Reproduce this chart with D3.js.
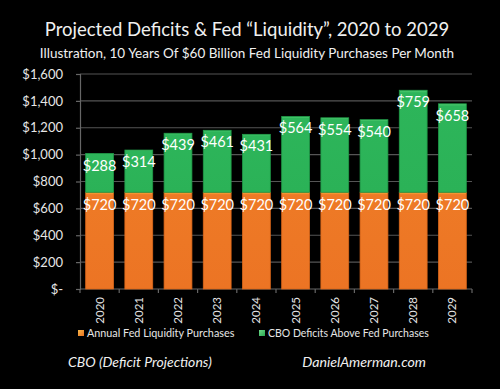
<!DOCTYPE html>
<html><head><meta charset="utf-8">
<script src="https://cdn.jsdelivr.net/npm/d3@7"></script>
<style>
html,body{margin:0;padding:0;background:#000;}
svg{display:block;}
text{font-family:Lato,"Open Sans",sans-serif;}
</style></head>
<body>
<svg id="chart" width="500" height="389"></svg>
<script>
const years = ["2020","2021","2022","2023","2024","2025","2026","2027","2028","2029"];
const fedPurchases = [720,720,720,720,720,720,720,720,720,720];
const cboAbove = [288,314,439,461,431,564,554,540,759,658];
const yTicks = [0,200,400,600,800,1000,1200,1400,1600];
const seriesNames = ["Annual Fed Liquidity Purchases","CBO Deficits Above Fed Purchases"];

const svg = d3.select("#chart");
svg.append("rect").attr("width",500).attr("height",389).attr("fill","#000");

const defs = svg.append("defs");
function grad(id, top, mid, bot){
  const g = defs.append("linearGradient").attr("id",id).attr("x1",0).attr("y1",0).attr("x2",0).attr("y2",1);
  g.append("stop").attr("offset","0%").attr("stop-color",top);
  g.append("stop").attr("offset","2.5%").attr("stop-color",mid);
  g.append("stop").attr("offset","100%").attr("stop-color",bot);
}
const lg1 = defs.append("linearGradient").attr("id","legO").attr("x1",0).attr("y1",0).attr("x2",1).attr("y2",1);
lg1.append("stop").attr("offset","0%").attr("stop-color","#f7b84a");
lg1.append("stop").attr("offset","100%").attr("stop-color","#e8701f");
const lg2 = defs.append("linearGradient").attr("id","legG").attr("x1",0).attr("y1",0).attr("x2",1).attr("y2",1);
lg2.append("stop").attr("offset","0%").attr("stop-color","#6fd88a");
lg2.append("stop").attr("offset","100%").attr("stop-color","#26a84f");

const x0 = 80, x1 = 472, yTop = 74, yBot = 289;
const x = d3.scaleBand().domain(years).range([x0,x1]).paddingInner(0.29).paddingOuter(0.145);
const y = d3.scaleLinear().domain([0,1600]).range([yBot,yTop]);

// gridlines
svg.append("g").selectAll("line").data(yTicks.filter(d=>d>0)).join("line")
  .attr("x1",x0).attr("x2",x1).attr("y1",d=>y(d)).attr("y2",d=>y(d))
  .attr("stroke","#555").attr("stroke-width",1.2);

// y axis
const yAxis = d3.axisLeft(y).tickValues(yTicks).tickSize(4).tickPadding(13)
  .tickFormat(d=> d===0 ? "$-" : "$" + d3.format(",")(d));
const ya = svg.append("g").attr("transform",`translate(${x0},0)`).call(yAxis);
ya.select(".domain").attr("stroke","#666").attr("stroke-width",1.2);
ya.selectAll(".tick line").attr("stroke","#666").attr("stroke-width",1.2);
ya.selectAll(".tick text").attr("fill","#e6e6e6").attr("font-size",13).attr("font-family","Lato,sans-serif");

// x axis
const xa = svg.append("g").attr("transform",`translate(0,${yBot})`);
xa.append("line").attr("x1",x0).attr("x2",x1).attr("stroke","#666").attr("stroke-width",1.2);
const step = x.step();
xa.selectAll("line.tk").data(d3.range(11)).join("line").attr("class","tk")
  .attr("x1",i=>x0+i*step).attr("x2",i=>x0+i*step).attr("y1",0).attr("y2",4)
  .attr("stroke","#666").attr("stroke-width",1.2);
xa.selectAll("text").data(years).join("text")
  .attr("transform",d=>`translate(${x(d)+x.bandwidth()/2+4},8) rotate(-90)`)
  .attr("text-anchor","end").attr("fill","#e6e6e6").attr("font-size",11.5).text(d=>d);

// bars
const bw = x.bandwidth();
grad("gO","#f7b13f","#ee7a26","#ec7424");
grad("gG","#55cf74","#2db55a","#2bb257");
const bars = svg.append("g");
years.forEach((yr,i)=>{
  const a = fedPurchases[i], b = cboAbove[i];
  bars.append("rect").attr("x",x(yr)).attr("width",bw)
    .attr("y",y(a)).attr("height",y(0)-y(a))
    .attr("fill","url(#gO)").attr("stroke","#d9661a").attr("stroke-width",0.8);
  bars.append("rect").attr("x",x(yr)).attr("width",bw)
    .attr("y",y(a+b)).attr("height",y(a)-y(a+b))
    .attr("fill","url(#gG)").attr("stroke","#1f9a47").attr("stroke-width",0.8);
  bars.append("text").attr("x",x(yr)+bw/2).attr("y",y(a)+18).attr("text-anchor","middle")
    .attr("fill","#fff").attr("font-size",14.5).text("$"+a);
  bars.append("text").attr("x",x(yr)+bw/2).attr("y",y(a+b)+17).attr("text-anchor","middle")
    .attr("fill","#fff").attr("font-size",14.5).text("$"+b);
});

// title
svg.append("text").attr("x",247).attr("y",36).attr("text-anchor","middle").attr("fill","#f0f0f0")
  .attr("font-size",18.5).text("Projected Deficits & Fed \u201CLiquidity\u201D, 2020 to 2029");
svg.append("text").attr("x",247).attr("y",58).attr("text-anchor","middle").attr("fill","#f0f0f0")
  .attr("font-size",13.5).text("Illustration, 10 Years Of $60 Billion Fed Liquidity Purchases Per Month");

// legend
const leg = svg.append("g");
leg.append("rect").attr("x",78).attr("y",330).attr("width",6).attr("height",6).attr("fill","url(#legO)");
leg.append("text").attr("x",87).attr("y",337).attr("fill","#e6e6e6").attr("font-size",10.8).text(seriesNames[0]);
leg.append("rect").attr("x",259).attr("y",330).attr("width",6).attr("height",6).attr("fill","url(#legG)");
leg.append("text").attr("x",268).attr("y",337).attr("fill","#e6e6e6").attr("font-size",10.5).text(seriesNames[1]);

// footer
svg.append("text").attr("x",68).attr("y",367).attr("fill","#f0f0f0").attr("font-size",14)
  .attr("font-style","italic").text("CBO (Deficit Projections)");
svg.append("text").attr("x",426).attr("y",367).attr("text-anchor","end").attr("fill","#f0f0f0").attr("font-size",14.2)
  .attr("font-style","italic").text("DanielAmerman.com");
</script>
</body></html>
